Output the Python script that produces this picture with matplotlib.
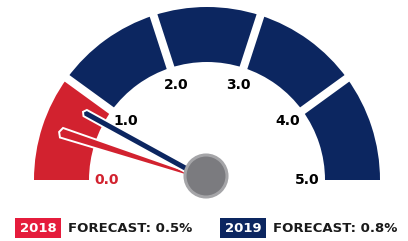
import numpy as np
import matplotlib
matplotlib.use('Agg')
import matplotlib.pyplot as plt
from matplotlib.patches import Wedge, Polygon, Circle, Rectangle

# Datos del indicador
scale_edges = [0.0, 1.0, 2.0, 3.0, 4.0, 5.0]
tick_labels = ['0.0', '1.0', '2.0', '3.0', '4.0', '5.0']
years = ['2018', '2019']
forecasts = [0.5, 0.8]

RED = '#D2222F'
RED_LEG = '#E51C3C'
NAVY = '#0C2660'
GRAY = '#7B7B7F'

vmax = scale_edges[-1]
cx, cy = 207, 61          # centro del indicador (px, y hacia arriba)
r_out, r_in = 173, 118


def ang(v):
    return 180 - 180 * v / vmax


fig = plt.figure(figsize=(4.08, 2.41), dpi=100)
ax = fig.add_axes([0, 0, 1, 1])
ax.set_xlim(0, 408)
ax.set_ylim(0, 241)
ax.axis('off')

# Segmentos
for i in range(len(scale_edges) - 1):
    col = RED if i == 0 else NAVY
    ax.add_patch(Wedge((cx, cy), r_out, ang(scale_edges[i + 1]), ang(scale_edges[i]),
                       width=r_out - r_in, facecolor=col, edgecolor='none'))

# Separaciones blancas
for v in scale_edges[1:-1]:
    t = np.radians(ang(v))
    ax.plot([cx + (r_in - 5) * np.cos(t), cx + (r_out + 5) * np.cos(t)],
            [cy + (r_in - 5) * np.sin(t), cy + (r_out + 5) * np.sin(t)],
            color='white', lw=5.8, solid_capstyle='butt')

# Etiquetas
for v, lab in zip(scale_edges, tick_labels):
    t = np.radians(ang(v))
    r = 100
    ax.text(cx + r * np.cos(t), cy + r * np.sin(t), lab, ha='center', va='center',
            fontsize=10, fontweight='bold', color=RED if v == 0 else 'black')


def needle(value, length, w0, w1, color):
    t = np.radians(ang(value))
    u = np.array([np.cos(t), np.sin(t)])
    n = np.array([-np.sin(t), np.cos(t)])
    c = np.array([cx, cy])
    pts = [c + n * w0 / 2,
           c + u * length + n * w1 / 2,
           c + u * (length + 2.5) + n * 0.0,
           c + u * length - n * w1 / 2,
           c - n * w0 / 2]
    ax.add_patch(Polygon(pts, closed=True, facecolor=color, edgecolor='white',
                         lw=1.4, joinstyle='miter'))


needle(forecasts[0], 153, 3, 10, RED)
needle(forecasts[1], 139, 7, 7, NAVY)

ax.add_patch(Circle((cx - 1, cy + 4), 21, facecolor=GRAY, edgecolor='#A5A5A8', lw=2.2))

# Leyenda
for x0, yr, fc, col in [(15, years[0], forecasts[0], RED_LEG), (220, years[1], forecasts[1], NAVY)]:
    ax.add_patch(Rectangle((x0, 3), 46, 20, facecolor=col, edgecolor='none'))
    ax.text(x0 + 23, 13, yr, ha='center', va='center', color='white',
            fontsize=9.5, fontweight='bold')
    ax.text(x0 + 53, 13, f'FORECAST: {fc}%', ha='left', va='center', color='#1a1a1a',
            fontsize=9.5, fontweight='semibold')

fig.savefig('out.png', dpi=100)
